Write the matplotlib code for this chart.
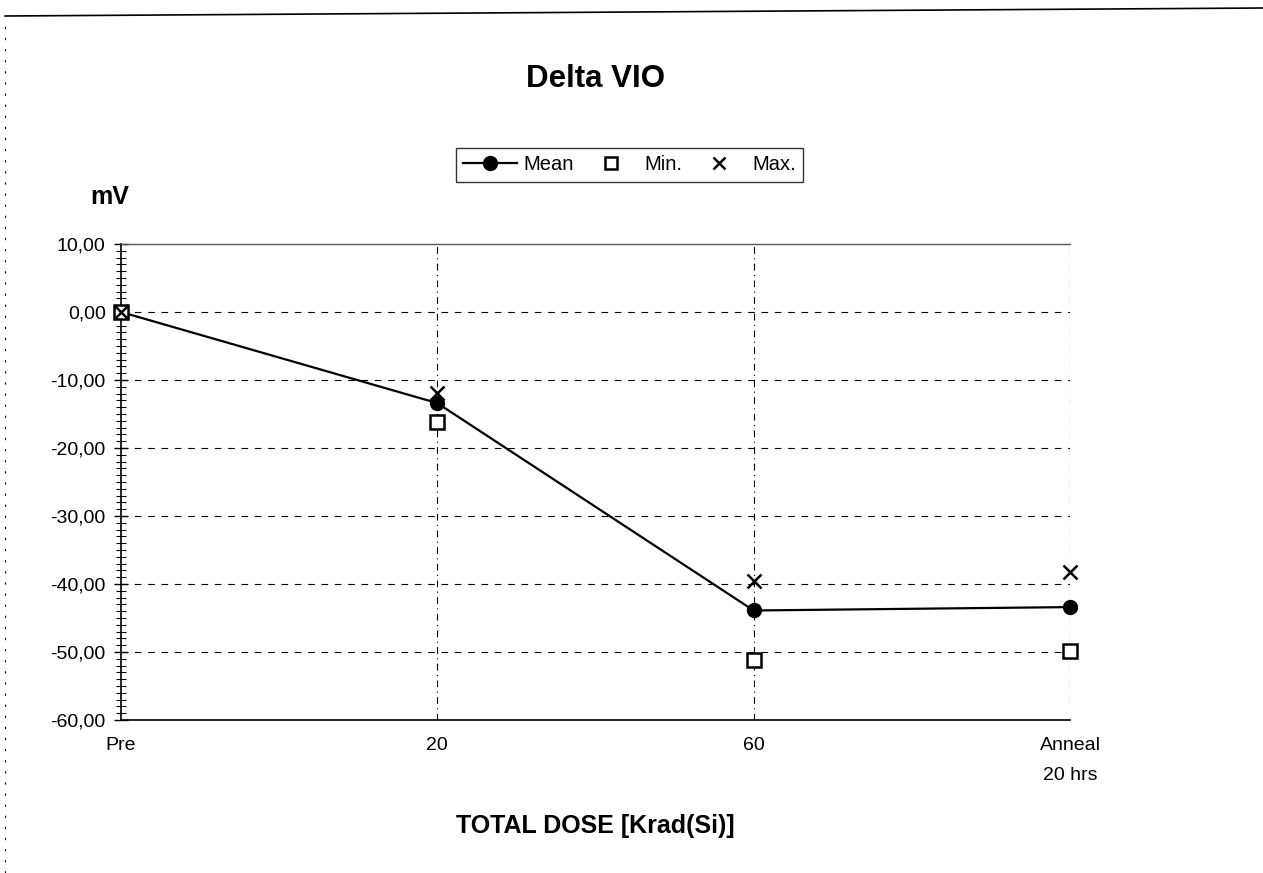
import matplotlib.pyplot as plt
from matplotlib.lines import Line2D
from matplotlib.ticker import MultipleLocator, FuncFormatter
import numpy as np

plt.rcParams['font.family'] = ['Liberation Sans', 'DejaVu Sans']

# dose steps and measured delta VIO (mV)
steps = ['Pre', '20', '60', 'Anneal\n20 hrs']
mean_mv = [0.0, -13.4, -43.9, -43.4]
min_mv = [0.0, -16.2, -51.2, -49.9]
max_mv = [0.0, -11.9, -39.6, -38.2]

x = np.arange(len(steps))

fig = plt.figure(figsize=(12.63, 8.73), dpi=100)
ax = fig.add_axes([0.0958, 0.1753, 0.7514, 0.5452])

ax.plot(x, mean_mv, '-o', color='black', lw=1.6, ms=10, clip_on=False, zorder=4)
ax.plot(x, min_mv, 's', color='black', mfc='white', mew=1.8, ms=10, clip_on=False, zorder=4)
ax.plot(x, max_mv, 'x', color='black', mew=1.8, ms=10, clip_on=False, zorder=4)

ax.set_xlim(0, 3)
ax.set_ylim(-60, 10)
ax.set_xticks(x)
ax.set_xticklabels(steps, fontsize=14, linespacing=2.0, va='top')
ax.tick_params(axis='x', length=0, pad=12)

ax.yaxis.set_major_locator(MultipleLocator(10))
ax.yaxis.set_minor_locator(MultipleLocator(1))
ax.yaxis.set_major_formatter(FuncFormatter(lambda v, p: f'{v:.2f}'.replace('.', ',')))
ax.tick_params(axis='y', which='major', direction='inout', length=10, width=1, labelsize=14, pad=6)
ax.tick_params(axis='y', which='minor', direction='inout', length=7, width=0.8)

# dashed grid, category lines only for the dose steps
for yv in range(-50, 10, 10):
    ax.axhline(yv, color='black', lw=0.8, ls=(0, (6, 6)), zorder=1)
for xv in x[1:]:
    ax.axvline(xv, color='black', lw=0.8, ls=(0, (6, 4, 1, 4)), zorder=1)

ax.spines['right'].set_visible(False)
ax.spines['top'].set_linewidth(1.0)
ax.spines['top'].set_color('#555555')
ax.spines['bottom'].set_linewidth(1.2)
ax.spines['left'].set_linewidth(1.2)

ax.set_title('Delta VIO', fontsize=22.5, fontweight='bold', pad=0, y=1.0 + 157 / 476)
ax.set_xlabel('TOTAL DOSE [Krad(Si)]', fontsize=18, fontweight='bold', labelpad=22)
fig.text(0.087, 0.774, 'mV', fontsize=18, fontweight='bold', va='center', ha='center')

handles = [
    Line2D([], [], color='black', marker='o', ms=10, lw=1.6),
    Line2D([], [], color='black', marker='s', mfc='white', mew=1.8, ms=9, lw=0),
    Line2D([], [], color='black', marker='x', mew=1.8, ms=9, lw=0),
]
leg = fig.legend(handles, ['Mean', 'Min.', 'Max.'], loc='center', ncol=3,
                 bbox_to_anchor=(0.4985, 0.811), fontsize=14.5, frameon=True,
                 fancybox=False, edgecolor='black', handlelength=2.7,
                 columnspacing=0.5, handletextpad=0.3, borderpad=0.35,
                 borderaxespad=0)
leg.get_frame().set_linewidth(1.0)

# page border lines around the chart area
fig.add_artist(Line2D([0.004, 1.0], [1 - 16 / 873, 1 - 8 / 873], color='black', lw=1.2))
fig.add_artist(Line2D([0.004, 0.004], [0.0, 1 - 22 / 873], color='black', lw=0.8, ls=(0, (2, 8))))

fig.savefig('out.png', dpi=100)
